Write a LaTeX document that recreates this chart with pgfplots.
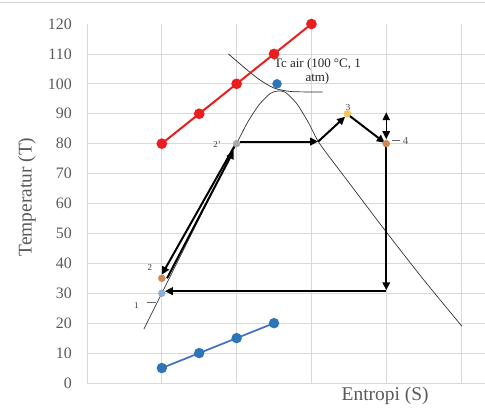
\documentclass[border=0pt]{standalone}
\usepackage{fontspec}
\setmainfont{Liberation Serif}
\usepackage{pgfplots}
\pgfplotsset{compat=1.18}
\usetikzlibrary{arrows.meta}
\definecolor{redS}{RGB}{235,30,30}
\definecolor{blueS}{RGB}{68,114,196}
\definecolor{blueM}{RGB}{46,117,182}
\definecolor{lblue}{RGB}{140,175,215}
\definecolor{brownM}{RGB}{205,135,85}
\definecolor{yelM}{RGB}{240,200,90}
\definecolor{grayM}{RGB}{170,170,170}
\definecolor{txt}{RGB}{89,89,89}
\definecolor{gridc}{RGB}{217,217,217}
\begin{document}
\begin{tikzpicture}
\path[use as bounding box] (-87bp,-27bp) rectangle (398bp,383bp);
\draw[gray!35, line width=0.8pt] (-87bp,380.5bp) -- (398bp,380.5bp);
\begin{axis}[at={(0,0)}, anchor=south west, scale only axis,
  width=398bp, height=359bp,
  xmin=0, xmax=5.32, ymin=0, ymax=120,
  axis line style={draw=none},
  xtick={0,1,2,3,4,5}, xticklabels={},
  ytick={0,10,...,110}, extra y ticks={120}, extra y tick style={grid=none},
  grid=major, grid style={gridc, line width=0.8pt},
  major tick length=0pt,
  tick label style={font=\fontsize{16}{16}\selectfont, text=txt},
  /pgf/number format/assume math mode=true,
  yticklabel style={inner sep=0pt, xshift=-15bp},
  ylabel={Temperatur (T)},
  ylabel style={font=\fontsize{19.5}{20}\selectfont, text=txt, at={(axis description cs:-0.151,0.518)}, anchor=center},
  xlabel={Entropi (S)},
  xlabel style={font=\fontsize{19.5}{20}\selectfont, text=txt, at={(axis description cs:0.749,-0.036)}, anchor=center},
  clip=false,
  >={Triangle[length=8pt,width=7.5pt]}]
% dome
\addplot[black!80, line width=0.7pt, smooth, tension=0.4] coordinates {
 (0.76,18) (1,30) (1.5,55) (2,80) (2.15,87.3) (2.3,93) (2.45,96.8) (2.55,97.6) (2.65,97.2) (2.8,93.5) (2.95,87.5) (3.11,80) (3.5,67) (4,50.5) (4.5,34.5) (5.01,19)};
% Tc curve
\addplot[black!85, line width=0.7pt, smooth, tension=0.5] coordinates {
 (1.89,110) (2.1,105.5) (2.3,101.5) (2.5,98.6) (2.7,97.5) (2.9,97.3) (3.15,97.3)};
% red series
\addplot[redS, line width=2pt, mark=*, mark size=4.3pt, mark options={fill=redS, draw=redS}] coordinates {(1,80) (1.5,90) (2,100) (2.5,110) (3,120)};
% blue series
\addplot[blueS, line width=1.8pt, mark=*, mark size=4.3pt, mark options={fill=blueM, draw=blueM}] coordinates {(1,5) (1.5,10) (2,15) (2.5,20)};
% critical point
\addplot[only marks, mark=*, mark size=4.5pt, blueM] coordinates {(2.54,100)};
% state points
\addplot[only marks, mark=*, mark size=3.5pt, lblue] coordinates {(1,30)};
\addplot[only marks, mark=*, mark size=3.5pt, brownM] coordinates {(1,35)};
\addplot[only marks, mark=*, mark size=3.5pt, grayM] coordinates {(2,80)};
\addplot[only marks, mark=*, mark size=3.5pt, yelM] coordinates {(3.48,90)};
\addplot[only marks, mark=*, mark size=3.5pt, brownM] coordinates {(4,80)};
% cycle arrows
\addplot[black, line width=2pt, ->] coordinates {(1.07,35) (1.96,77.6)};
\addplot[black, line width=2pt, ->] coordinates {(1.99,80) (1.0,36.2)};
\addplot[black, line width=2pt, ->] coordinates {(2.05,80.7) (3.09,80.7)};
\addplot[black, line width=2pt, ->] coordinates {(3.09,80.7) (3.45,89)};
\addplot[black, line width=2pt, ->] coordinates {(3.5,89.5) (3.98,80.3)};
\addplot[black, line width=1.5pt, <->] coordinates {(4,81.5) (4,90.5)};
\addplot[black, line width=2pt, ->] coordinates {(4,80) (4,31)};
\addplot[black, line width=2pt, ->] coordinates {(4,30.7) (1.04,30.7)};
% leader lines
\addplot[black!60, line width=0.6pt] coordinates {(0.8,27) (0.92,27)};
\addplot[black!60, line width=0.6pt] coordinates {(4.08,81) (4.18,81)};
% labels
\node[font=\fontsize{9}{9}\selectfont, text=black!80] at (axis cs:0.66,26) {1};
\node[font=\fontsize{9}{9}\selectfont, text=black!80] at (axis cs:0.84,38.5) {2};
\node[font=\fontsize{9}{9}\selectfont, text=black!80] at (axis cs:1.74,79.8) {2'};
\node[font=\fontsize{9}{9}\selectfont, text=black!80] at (axis cs:3.49,92) {3};
\node[font=\fontsize{11}{11}\selectfont, text=txt] at (axis cs:4.26,81) {4};
\node[font=\fontsize{13}{14}\selectfont, text=black!85, align=center] at (axis cs:3.08,104.3) {Tc air (100 °C, 1\\atm)};
\end{axis}
\end{tikzpicture}
\end{document}
